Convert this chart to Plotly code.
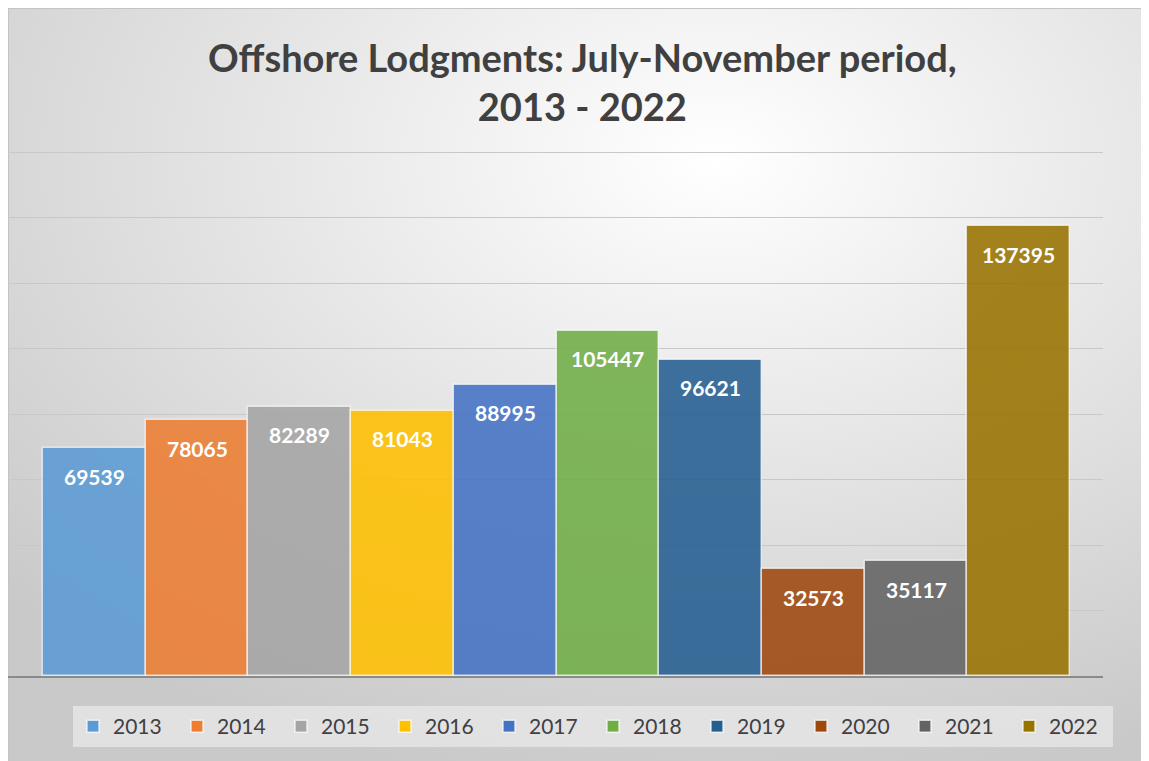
import base64
import plotly.graph_objects as go

# chart data
YEARS = ["2013", "2014", "2015", "2016", "2017", "2018", "2019", "2020", "2021", "2022"]
LODGMENTS = [69539, 78065, 82289, 81043, 88995, 105447, 96621, 32573, 35117, 137395]
COLOURS = ["#5B9BD5", "#ED7D31", "#A5A5A5", "#FFC000", "#4472C4",
           "#70AD47", "#255E91", "#9E480E", "#636363", "#997300"]
TITLE = "Offshore Lodgments: July-November period,<br>2013 - 2022"

# the page body adds an 8px margin, so the figure is a bit smaller than the window
W, H = 1141, 753
L, R, T, B = 0, 46, 143, 85
PW, PH = W - L - R, H - T - B

# soft radial background like the Excel chart area
svg = ('<svg xmlns="http://www.w3.org/2000/svg" width="1141" height="753" preserveAspectRatio="none">'
       '<defs><radialGradient id="g" cx="0.62" cy="0.2" r="0.85">'
       '<stop offset="0" stop-color="#ffffff"/><stop offset="1" stop-color="#c9c9c9"/>'
       '</radialGradient></defs>'
       '<rect x="0.5" y="0.5" width="1141" height="753" fill="url(#g)" stroke="#c4c4c4"/></svg>')
bg_src = "data:image/svg+xml;base64," + base64.b64encode(svg.encode()).decode()

fig = go.Figure()
for i, (yr, val, col) in enumerate(zip(YEARS, LODGMENTS, COLOURS)):
    fig.add_trace(go.Bar(
        x=[yr], y=[val], name=yr,
        marker=dict(color=col, opacity=0.88,
                    line=dict(color="rgba(255,255,255,0.7)", width=1.5)),
        hoverinfo="x+y",
    ))
    # value label inside the top of each bar (x = category index)
    fig.add_annotation(x=i, y=val, xref="x", yref="y", yshift=-28,
                       text=str(val), showarrow=False, yanchor="middle",
                       font=dict(family="Lato", size=21, color="white", weight="bold"))

fig.add_annotation(text=TITLE, xref="paper", yref="paper",
                   x=574 / PW, y=(H - B - 73) / PH, xanchor="center", yanchor="middle",
                   showarrow=False,
                   font=dict(family="Lato", size=38, color="#404040", weight="bold"))

fig.add_layout_image(dict(
    source=bg_src, xref="paper", yref="paper",
    x=-L / PW, y=(H - B) / PH, sizex=W / PW, sizey=H / PH,
    xanchor="left", yanchor="top", sizing="stretch", layer="below",
))

fig.update_layout(
    width=W, height=H,
    margin=dict(l=L, r=R, t=T, b=B),
    paper_bgcolor="white", plot_bgcolor="rgba(0,0,0,0)",
    barmode="overlay", bargap=0,
    legend=dict(orientation="h", xref="paper", x=585 / PW, xanchor="center",
                yref="paper", y=-(698 - (H - B)) / PH, yanchor="top",
                bgcolor="rgba(232,232,232,0.75)", entrywidth=59,
                font=dict(family="Lato", size=21, color="#404040")),
    showlegend=True,
)
fig.update_xaxes(type="category", categoryorder="array", categoryarray=YEARS,
                 range=[-0.84, 9.82], showticklabels=False, showgrid=False,
                 showline=True, linecolor="#8a8a8a", linewidth=1.5,
                 layer="below traces", fixedrange=True)
fig.update_yaxes(range=[0, 160400], dtick=20000, showticklabels=False,
                 showgrid=True, gridcolor="#c8c8c8", gridwidth=1.3,
                 zeroline=False, layer="below traces", fixedrange=True)

fig.write_html("out.html")
